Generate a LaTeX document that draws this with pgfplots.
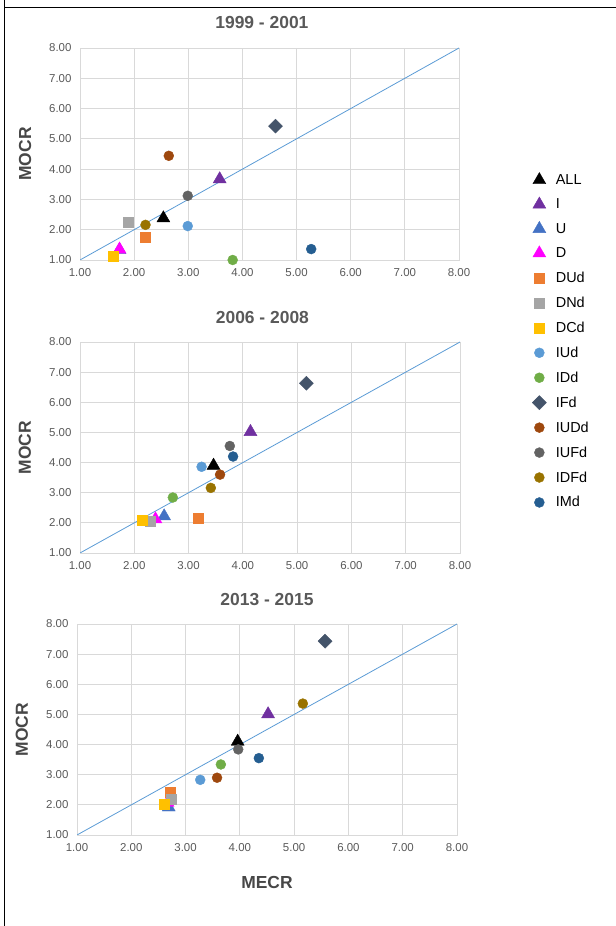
\documentclass[border=0pt]{standalone}
\usepackage{fontspec}
\setmainfont{Liberation Sans}
\usepackage{pgfplots}
\pgfplotsset{compat=1.18}
\definecolor{cALL}{HTML}{000000}
\definecolor{cI}{HTML}{7030A0}
\definecolor{cU}{HTML}{4472C4}
\definecolor{cD}{HTML}{FF00FF}
\definecolor{cDUd}{HTML}{ED7D31}
\definecolor{cDNd}{HTML}{A5A5A5}
\definecolor{cDCd}{HTML}{FFC000}
\definecolor{cIUd}{HTML}{5B9BD5}
\definecolor{cIDd}{HTML}{70AD47}
\definecolor{cIFd}{HTML}{44546A}
\definecolor{cIUDd}{HTML}{9E480E}
\definecolor{cIUFd}{HTML}{636363}
\definecolor{cIDFd}{HTML}{997300}
\definecolor{cIMd}{HTML}{255E91}
\definecolor{gridgray}{HTML}{D9D9D9}
\definecolor{labgray}{HTML}{595959}
\pgfplotsset{
  tri/.style={only marks, mark=triangle*, mark size=7.5pt, color=#1, mark options={fill=#1, draw=#1}},
  sqr/.style={only marks, mark=square*, mark size=5pt, color=#1, mark options={fill=#1, draw=#1}},
  cir/.style={only marks, mark=*, mark size=5pt, color=#1, mark options={fill=#1, draw=#1}},
  dia/.style={only marks, mark=square*, mark size=5pt, color=#1, mark options={fill=#1, draw=#1, rotate=45}},
  panel/.style={
    scale only axis, width=380bp, height=211bp,
    xmin=1, xmax=8, ymin=1, ymax=8,
    xtick={1,2,...,8}, ytick={1,2,...,8},
    grid=major, major grid style={draw=gridgray, line width=0.8pt},
    axis line style={draw=gridgray, line width=0.8pt},
    major tick length=0pt,
    /pgf/number format/assume math mode=true,
    /pgf/number format/.cd, fixed, fixed zerofill, precision=2, /pgfplots/.cd,
    ticklabel style={font=\fontsize{11.5}{13}\selectfont, text=labgray},
    xticklabel style={yshift=-5bp},
    yticklabel style={xshift=-5bp},
    title style={at={(axis description cs:0.48,1.09)}, anchor=center, font=\fontsize{17.5}{19}\selectfont\bfseries, text=labgray},
    ylabel={MOCR},
    ylabel style={at={(axis description cs:-0.145,0.5)}, anchor=center, font=\fontsize{17.5}{19}\selectfont\bfseries, text=labgray!80!black},
  },
}
\begin{document}
\begin{tikzpicture}[x=1bp,y=1bp]
\path[use as bounding box] (0,0) rectangle (616,926);
\draw[line width=1.3bp] (4.5,926) -- (4.5,918.5) -- (616,918.5);
\draw[line width=1.3bp] (4.5,918.5) -- (4.5,0);

% Panel 1
\begin{axis}[panel, at={(80bp,666bp)}, anchor=south west, width=379bp, height=212bp,
  title={1999 - 2001},
  legend style={at={(axis description cs:1.185,0.424)}, anchor=north west, draw=none, fill=none,
    font=\fontsize{14.5}{16}\selectfont, row sep=9bp, cells={anchor=west}},
  legend image code/.code={\path[draw=none,fill=none] (-7bp,0) rectangle (14.5bp,0.1bp); \draw[#1] plot coordinates {(0bp,0bp)};},
]
\addplot[cIUd, line width=0.8pt, forget plot] coordinates {(1,1) (8,8)};
\addplot[tri=cALL] coordinates {(2.54,2.38)};
\addplot[tri=cI] coordinates {(3.58,3.67)};
\addplot[tri=cU] coordinates {(1.73,1.33)};
\addplot[tri=cD] coordinates {(1.73,1.35)};
\addplot[sqr=cDUd] coordinates {(2.20,1.76)};
\addplot[sqr=cDNd] coordinates {(1.89,2.26)};
\addplot[sqr=cDCd] coordinates {(1.62,1.11)};
\addplot[cir=cIUd] coordinates {(2.99,2.12)};
\addplot[cir=cIDd] coordinates {(3.82,1.00)};
\addplot[dia=cIFd] coordinates {(4.61,5.42)};
\addplot[cir=cIUDd] coordinates {(2.64,4.44)};
\addplot[cir=cIUFd] coordinates {(2.99,3.12)};
\addplot[cir=cIDFd] coordinates {(2.21,2.16)};
\addplot[cir=cIMd] coordinates {(5.27,1.36)};
\legend{ALL,I,U,D,DUd,DNd,DCd,IUd,IDd,IFd,IUDd,IUFd,IDFd,IMd}
\end{axis}

% Panel 2
\begin{axis}[panel, at={(80bp,373bp)}, anchor=south west,
  title={2006 - 2008},
]
\addplot[cIUd, line width=0.8pt] coordinates {(1,1) (8,8)};
\addplot[tri=cALL] coordinates {(3.46,3.90)};
\addplot[tri=cI] coordinates {(4.14,5.02)};
\addplot[tri=cU] coordinates {(2.55,2.22)};
\addplot[tri=cD] coordinates {(2.39,2.12)};
\addplot[sqr=cDUd] coordinates {(3.17,2.16)};
\addplot[sqr=cDNd] coordinates {(2.30,2.05)};
\addplot[sqr=cDCd] coordinates {(2.14,2.08)};
\addplot[cir=cIUd] coordinates {(3.24,3.86)};
\addplot[cir=cIDd] coordinates {(2.71,2.84)};
\addplot[dia=cIFd] coordinates {(5.17,6.63)};
\addplot[cir=cIUDd] coordinates {(3.58,3.60)};
\addplot[cir=cIUFd] coordinates {(3.76,4.55)};
\addplot[cir=cIDFd] coordinates {(3.41,3.16)};
\addplot[cir=cIMd] coordinates {(3.82,4.20)};
\end{axis}

% Panel 3
\begin{axis}[panel, at={(77bp,91bp)}, anchor=south west,
  title={2013 - 2015},
  xlabel={MECR},
  xlabel style={at={(axis description cs:0.5,-0.227)}, anchor=center, font=\fontsize{17.5}{19}\selectfont\bfseries, text=labgray!80!black},
  title style={at={(axis description cs:0.5,1.09)}},
]
\addplot[cIUd, line width=0.8pt] coordinates {(1,1) (8,8)};
\addplot[tri=cALL] coordinates {(3.96,4.10)};
\addplot[tri=cI] coordinates {(4.52,5.01)};
\addplot[tri=cU] coordinates {(2.69,1.92)};
\addplot[tri=cD] coordinates {(2.67,2.07)};
\addplot[sqr=cDUd] coordinates {(2.72,2.41)};
\addplot[sqr=cDNd] coordinates {(2.73,2.20)};
\addplot[sqr=cDCd] coordinates {(2.61,2.02)};
\addplot[cir=cIUd] coordinates {(3.27,2.83)};
\addplot[cir=cIDd] coordinates {(3.65,3.34)};
\addplot[dia=cIFd] coordinates {(5.57,7.43)};
\addplot[cir=cIUDd] coordinates {(3.58,2.90)};
\addplot[cir=cIUFd] coordinates {(3.97,3.84)};
\addplot[cir=cIDFd] coordinates {(5.16,5.36)};
\addplot[cir=cIMd] coordinates {(4.35,3.55)};
\end{axis}
\end{tikzpicture}
\end{document}
